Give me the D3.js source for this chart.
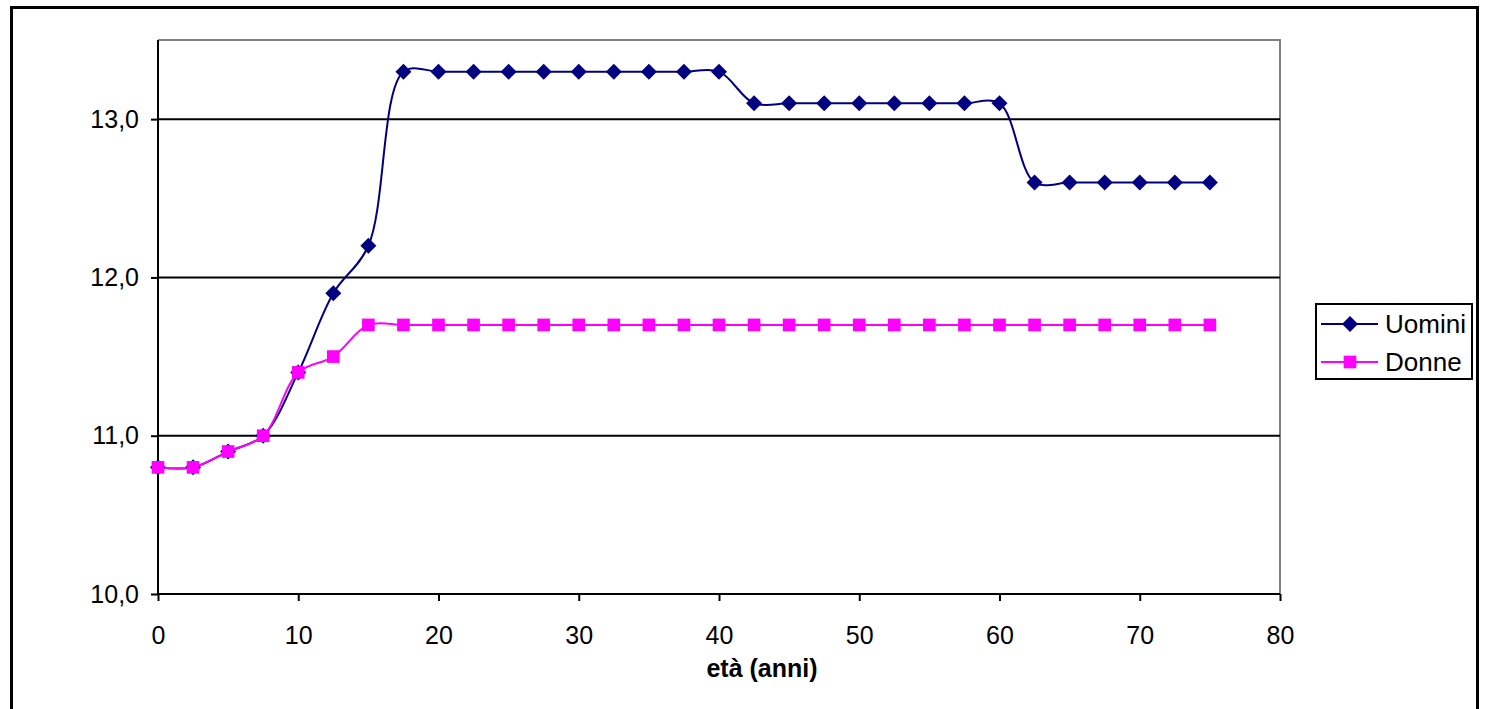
<!DOCTYPE html>
<html>
<head>
<meta charset="utf-8">
<script src="https://cdn.jsdelivr.net/npm/d3@7"></script>
<style>
  body { margin: 0; background: #fff; }
  svg { display: block; font-family: Arial, "Liberation Sans", sans-serif; }
</style>
</head>
<body>
<div id="chart"></div>
<script>
const ages = [0, 2.5, 5, 7.5, 10, 12.5, 15, 17.5, 20, 22.5, 25, 27.5, 30, 32.5, 35, 37.5, 40,
  42.5, 45, 47.5, 50, 52.5, 55, 57.5, 60, 62.5, 65, 67.5, 70, 72.5, 75];
const uomini = [10.8, 10.8, 10.9, 11.0, 11.4, 11.9, 12.2, 13.3, 13.3, 13.3, 13.3, 13.3, 13.3, 13.3, 13.3, 13.3, 13.3,
  13.1, 13.1, 13.1, 13.1, 13.1, 13.1, 13.1, 13.1, 12.6, 12.6, 12.6, 12.6, 12.6, 12.6];
const donne = [10.8, 10.8, 10.9, 11.0, 11.4, 11.5, 11.7, 11.7, 11.7, 11.7, 11.7, 11.7, 11.7, 11.7, 11.7, 11.7, 11.7,
  11.7, 11.7, 11.7, 11.7, 11.7, 11.7, 11.7, 11.7, 11.7, 11.7, 11.7, 11.7, 11.7, 11.7];
const xTicks = [0, 10, 20, 30, 40, 50, 60, 70, 80];
const yTicks = [10, 11, 12, 13];

const W = 1485, H = 709;
const plot = { left: 158, right: 1280, top: 40, bottom: 594 };

const svg = d3.select('#chart').append('svg')
  .attr('width', W)
  .attr('height', H);

// outer chart frame
svg.append('rect')
  .attr('x', 11.5).attr('y', 7.5)
  .attr('width', 1466).attr('height', 710)
  .attr('fill', 'none')
  .attr('stroke', '#000')
  .attr('stroke-width', 3);

const x = d3.scaleLinear().domain([0, 80]).range([plot.left, plot.right]);
const y = d3.scaleLinear().domain([10, 13.5]).range([plot.bottom, plot.top]);

// plot area border (top/right grey)
svg.append('path')
  .attr('d', `M${plot.left},${plot.top}H${plot.right}V${plot.bottom}`)
  .attr('fill', 'none')
  .attr('stroke', '#808080')
  .attr('stroke-width', 2);

// gridlines
svg.append('g')
  .selectAll('line')
  .data(yTicks.filter(d => d > 10))
  .enter()
  .append('line')
  .attr('x1', plot.left).attr('x2', plot.right)
  .attr('y1', d => y(d)).attr('y2', d => y(d))
  .attr('stroke', '#000')
  .attr('stroke-width', 2);

// axes
const fmt = d => d.toFixed(1).replace('.', ',');

const yAxis = svg.append('g')
  .attr('transform', `translate(${plot.left},0)`)
  .call(d3.axisLeft(y).tickValues(yTicks).tickFormat(fmt).tickSize(7).tickPadding(12));
const xAxis = svg.append('g')
  .attr('transform', `translate(0,${plot.bottom})`)
  .call(d3.axisBottom(x).tickValues(xTicks).tickSize(7).tickPadding(25));

[xAxis, yAxis].forEach(g => {
  g.select('.domain').attr('stroke', '#000').attr('stroke-width', 2);
  g.selectAll('.tick line').attr('stroke', '#000').attr('stroke-width', 2);
  g.selectAll('text')
    .style('font-family', 'Arial, "Liberation Sans", sans-serif')
    .style('font-size', '25px')
    .style('fill', '#000');
});
yAxis.select('.domain').attr('d', `M0,${plot.top}V${plot.bottom}`);
xAxis.select('.domain').attr('d', `M${plot.left},0H${plot.right}`);

// x label
svg.append('text')
  .attr('x', 762)
  .attr('y', 677)
  .style('text-anchor', 'middle')
  .style('font-size', '25px')
  .style('font-weight', 'bold')
  .text('età (anni)');

const line = d3.line()
  .x(d => x(d[0]))
  .y(d => y(d[1]))
  .curve(d3.curveCatmullRom.alpha(0.5));

const series = [
  { name: 'Uomini', values: uomini, color: '#000080', shape: d3.symbolSquare, size: 128, rot: 45 },
  { name: 'Donne', values: donne, color: '#ff00ff', shape: d3.symbolSquare, size: 160, rot: 0 }
];

series.forEach(s => {
  const pts = ages.map((a, i) => [a, s.values[i]]);
  svg.append('path')
    .datum(pts)
    .attr('d', line)
    .attr('fill', 'none')
    .attr('stroke', s.color)
    .attr('stroke-width', 2);

  svg.append('g')
    .selectAll('path')
    .data(pts)
    .enter()
    .append('path')
    .attr('transform', d => `translate(${x(d[0])},${y(d[1])}) rotate(${s.rot})`)
    .attr('d', d3.symbol().type(s.shape).size(s.size))
    .attr('fill', s.color);
});

// legend
const legend = svg.append('g').attr('transform', 'translate(1316,304)');
legend.append('rect')
  .attr('width', 156).attr('height', 75)
  .attr('fill', '#fff')
  .attr('stroke', '#000')
  .attr('stroke-width', 2);

series.forEach((s, i) => {
  const ly = 20 + i * 38;
  legend.append('line')
    .attr('x1', 5).attr('x2', 62)
    .attr('y1', ly).attr('y2', ly)
    .attr('stroke', s.color)
    .attr('stroke-width', 2);
  legend.append('path')
    .attr('transform', `translate(34,${ly}) rotate(${s.rot})`)
    .attr('d', d3.symbol().type(s.shape).size(s.size))
    .attr('fill', s.color);
  legend.append('text')
    .attr('x', 69).attr('y', ly + 9)
    .style('font-size', '26px')
    .text(s.name);
});
</script>
</body>
</html>
